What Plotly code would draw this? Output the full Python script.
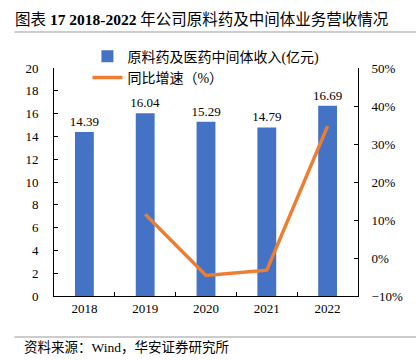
import plotly.graph_objects as go

years = ["2018", "2019", "2020", "2021", "2022"]
revenue = [14.39, 16.04, 15.29, 14.79, 16.69]
growth_years = ["2019", "2020", "2021", "2022"]
growth = [11.5, -4.6, -3.2, 34.7]

bar_name = "原料药及医药中间体收入(亿元)"
line_name = "同比增速（%）"
title_html = "图表 <b>17 2018-2022</b> 年公司原料药及中间体业务营收情况"
source_text = "资料来源：Wind，华安证券研究所"

FONT = "Liberation Serif, Times New Roman, Noto Sans CJK SC, serif"

fig = go.Figure()
fig.add_trace(go.Bar(
    x=years, y=revenue, name=bar_name,
    marker=dict(color="#4472C4", line=dict(width=0)),
    width=0.31,
    text=[f"{v:.2f}" for v in revenue], textposition="outside",
    constraintext="none",
    textfont=dict(family=FONT, size=13, color="#000"),
    cliponaxis=False,
))
fig.add_trace(go.Scatter(
    x=growth_years, y=growth, name=line_name, yaxis="y2",
    mode="lines", line=dict(color="#ED7D31", width=3.5),
))

fig.update_layout(
    width=416, height=360,
    margin=dict(l=54, r=58, t=68, b=64, autoexpand=False),
    paper_bgcolor="white", plot_bgcolor="white",
    font=dict(family=FONT, size=13, color="#000"),
    showlegend=True,
    legend=dict(x=0.11, y=1.12, xanchor="left", yanchor="top",
                bgcolor="rgba(0,0,0,0)", font=dict(size=14, family=FONT),
                tracegroupgap=0, itemwidth=30),
    bargap=0.69,
    xaxis=dict(type="category", showline=True, linecolor="#000", linewidth=1,
               ticks="inside", tickson="boundaries", ticklen=4, tickcolor="#000",
               showgrid=False, tickfont=dict(size=13)),
    yaxis=dict(range=[0, 20], dtick=2, showline=True, linecolor="#000", linewidth=1,
               ticks="inside", ticklen=4, tickcolor="#000", showgrid=False,
               zeroline=False, tickfont=dict(size=13), ticklabelstandoff=12),
    yaxis2=dict(range=[-10, 50], dtick=10, overlaying="y", side="right",
                showline=True, linecolor="#000", linewidth=1,
                ticks="inside", ticklen=4, tickcolor="#000", showgrid=False,
                zeroline=False, ticksuffix="%", tickfont=dict(size=13),
                ticklabelstandoff=10),
    shapes=[
        dict(type="line", xref="paper", yref="paper", x0=-0.13, x1=1.2,
             y0=(296 - 32) / 228, y1=(296 - 32) / 228,
             line=dict(color="#999", width=1)),
        dict(type="line", xref="paper", yref="paper", x0=-0.13, x1=1.2,
             y0=(296 - 337) / 228, y1=(296 - 337) / 228,
             line=dict(color="#999", width=1)),
    ],
    annotations=[
        dict(text=title_html, xref="paper", yref="paper",
             x=(13 - 54) / 304, y=(296 - 19) / 228, xanchor="left", yanchor="middle",
             showarrow=False, font=dict(size=15.5, family=FONT, color="#000")),
        dict(text=source_text, xref="paper", yref="paper",
             x=(22 - 54) / 304, y=(296 - 347) / 228, xanchor="left", yanchor="middle",
             showarrow=False, font=dict(size=13.5, family=FONT, color="#000")),
    ],
)

fig.write_html("out.html", config={"displayModeBar": False},
               post_script="document.body.style.margin='0';document.body.style.overflow='hidden';")
